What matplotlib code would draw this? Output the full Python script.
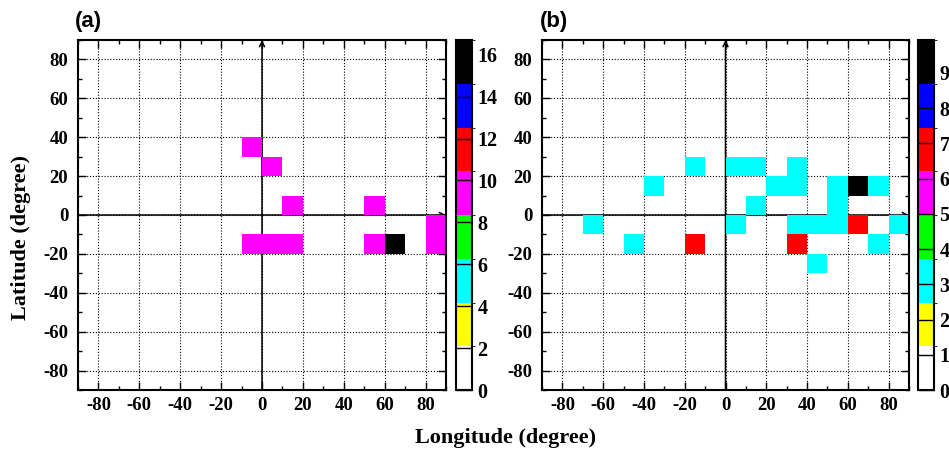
import numpy as np
import matplotlib
matplotlib.use("Agg")
import matplotlib.pyplot as plt
from matplotlib.colors import ListedColormap, BoundaryNorm
from matplotlib.ticker import MultipleLocator

plt.rcParams["axes.unicode_minus"] = False

# ---- data: 10x10 degree cells (lower-left lon, lat) and counts ----
lon_a = [-10, 0, 10, 50, 80, -10, 0, 10, 50, 80, 60]
lat_a = [30, 20, 0, 0, -10, -20, -20, -20, -20, -20, -20]
val_a = [9, 9, 9, 9, 9, 9, 9, 9, 9, 9, 16]
cmax_a = 16.7

lon_b = [-20, 0, 10, 30, -40, 20, 30, 50, 50, 60, 70, 10,
         -70, 0, 30, 40, 50, 60, 80,
         -50, -20, 30, 70,
         40]
lat_b = [20, 20, 20, 20, 10, 10, 10, 10, 0, 10, 10, 0,
         -10, -10, -10, -10, -10, -10, -10,
         -20, -20, -20, -20,
         -30]
val_b = [3, 3, 3, 3, 3, 3, 3, 3, 3, 9, 3, 3,
         3, 3, 3, 3, 3, 7, 3,
         3, 7, 7, 3,
         3]
cmax_b = 9.93

cb_ticks_a = list(range(0, 17, 2))
cb_ticks_b = list(range(0, 10))
xticks = list(range(-80, 81, 20))
yticks = list(range(-80, 81, 20))

palette = ["#ffffff", "#ffff00", "#00ffff", "#00ff00",
           "#ff00ff", "#ff0000", "#0000ff", "#000000"]

serif = ["Liberation Serif", "DejaVu Serif"]
sans = ["Liberation Sans", "DejaVu Sans"]

W, H = 949, 453
fig = plt.figure(figsize=(W / 100, H / 100), dpi=100)


def fx(px):
    return px / W


def fy(py):
    return 1 - py / H


edges = np.arange(-90, 91, 10)
cmap = ListedColormap(palette)


def panel(ax_rect, cax_rect, lons, lats, vals, cmax, cticks):
    ax = fig.add_axes(ax_rect)
    grid = np.zeros((len(edges) - 1, len(edges) - 1))
    for lo, la, v in zip(lons, lats, vals):
        i = int((la + 90) // 10)
        j = int((lo + 90) // 10)
        grid[i, j] = v
    masked = np.ma.masked_equal(grid, 0)
    norm = BoundaryNorm(np.linspace(0, cmax, 9), cmap.N)
    mesh = ax.pcolormesh(edges, edges, masked, cmap=cmap, norm=norm,
                         zorder=3, edgecolor="none", antialiased=False)
    ax.set_xlim(-90, 90)
    ax.set_ylim(-90, 90)
    ax.set_xticks(xticks)
    ax.set_yticks(yticks)
    ax.xaxis.set_minor_locator(MultipleLocator(10))
    ax.yaxis.set_minor_locator(MultipleLocator(10))
    ax.tick_params(which="both", direction="in", top=True, right=True,
                   width=1.0)
    ax.tick_params(which="major", length=6)
    ax.tick_params(which="minor", length=3)
    ax.tick_params(axis="x", pad=5)
    ax.tick_params(axis="y", pad=7)
    for lab in ax.get_xticklabels() + ax.get_yticklabels():
        lab.set_fontfamily(serif)
        lab.set_fontweight("bold")
        lab.set_fontsize(13.5)
    ax.grid(True, which="major", color="black", linestyle=(0, (1, 1.6)),
            linewidth=0.8, zorder=1)
    for s in ax.spines.values():
        s.set_linewidth(1.5)
        s.set_zorder(5)
    ap = dict(arrowstyle="->", lw=1.1, color="black", shrinkA=0, shrinkB=0,
              mutation_scale=9)
    ax.annotate("", xy=(0, 90), xytext=(0, -90), arrowprops=ap,
                annotation_clip=False, zorder=2)
    ax.annotate("", xy=(90, 0), xytext=(-90, 0), arrowprops=ap,
                annotation_clip=False, zorder=2)

    cax = fig.add_axes(cax_rect)
    cb = fig.colorbar(mesh, cax=cax, boundaries=np.linspace(0, cmax, 9),
                      ticks=cticks)
    cb.outline.set_linewidth(1.5)
    cax.set_ylim(0, cmax)
    cax.tick_params(direction="in", length=11.5, width=1.0, right=True,
                    left=False, labelright=True, pad=4)
    for lab in cax.get_yticklabels():
        lab.set_fontfamily(serif)
        lab.set_fontweight("bold")
        lab.set_fontsize(14.5)
    return ax


bottom = fy(390)
height = fy(40) - fy(390)
panel([fx(78), bottom, fx(446) - fx(78), height],
      [fx(456), bottom, fx(472) - fx(456), height],
      lon_a, lat_a, val_a, cmax_a, cb_ticks_a)
panel([fx(542), bottom, fx(909) - fx(542), height],
      [fx(918), bottom, fx(934) - fx(918), height],
      lon_b, lat_b, val_b, cmax_b, cb_ticks_b)

fig.text(fx(88), fy(22), "(a)", family=sans, weight="bold", fontsize=16,
         ha="center", va="center")
fig.text(fx(554), fy(22), "(b)", family=sans, weight="bold", fontsize=16,
         ha="center", va="center")
fig.text(fx(506), fy(438), "Longitude (degree)", family=serif, weight="bold",
         fontsize=16, ha="center", va="center")
fig.text(fx(21), fy(237), "Latitude (degree)", family=serif, weight="bold",
         fontsize=16, ha="center", va="center", rotation=90)

fig.savefig("out.png", dpi=100)
